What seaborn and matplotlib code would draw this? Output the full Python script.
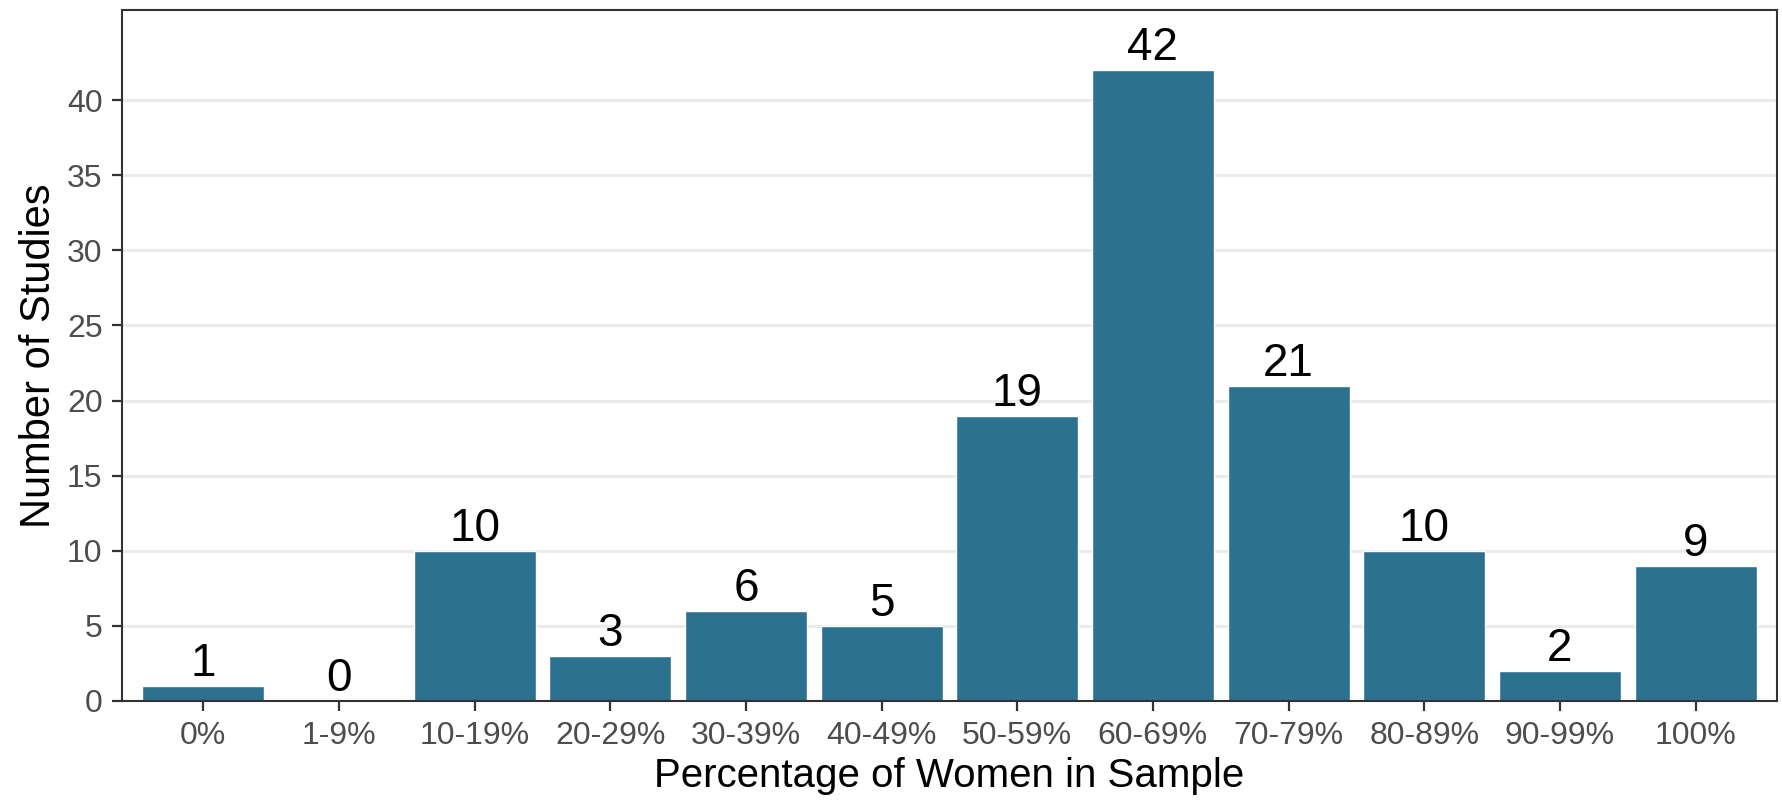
import seaborn as sns
import matplotlib.pyplot as plt
import pandas as pd

categories = ['0%', '1-9%', '10-19%', '20-29%', '30-39%', '40-49%',
              '50-59%', '60-69%', '70-79%', '80-89%', '90-99%', '100%']
counts = [1, 0, 10, 3, 6, 5, 19, 42, 21, 10, 2, 9]
y_ticks = [0, 5, 10, 15, 20, 25, 30, 35, 40]

df = pd.DataFrame({'group': categories, 'n': counts})

sns.set_theme(style="white")
plt.rcParams['font.family'] = ['Liberation Sans', 'DejaVu Sans']

fig = plt.figure(figsize=(17.83, 8.02), dpi=100)
ax = fig.add_axes([0.0684, 0.126, 0.9282, 0.8615])

sns.barplot(data=df, x='group', y='n', order=categories, color='#2D7190',
            saturation=1, width=0.9, ax=ax)

# counts above each bar
for i, v in enumerate(counts):
  ax.annotate(f'{v}', (i, v), xytext=(0, 0), textcoords='offset points',
              ha='center', va='bottom', fontsize=33, color='black')

ax.set_xlim(-0.6, len(categories) - 0.4)
ax.set_ylim(0, 46)
ax.set_yticks(y_ticks)
ax.yaxis.grid(True, color='#EBEBEB', linewidth=2.2)
ax.xaxis.grid(False)
ax.set_axisbelow(True)

for s in ax.spines.values():
  s.set_visible(True)
  s.set_color('#333333')
  s.set_linewidth(1.5)

ax.tick_params(axis='both', which='major', length=7, width=1.6, color='#333333',
               labelsize=23, labelcolor='#4D4D4D', bottom=True, left=True)
ax.tick_params(axis='x', pad=7.5)
ax.tick_params(axis='y', pad=7)

ax.set_xlabel('Percentage of Women in Sample', fontsize=29, color='black', labelpad=4)
ax.set_ylabel('Number of Studies', fontsize=30, color='black', labelpad=6)

fig.savefig('out.png', dpi=100)
